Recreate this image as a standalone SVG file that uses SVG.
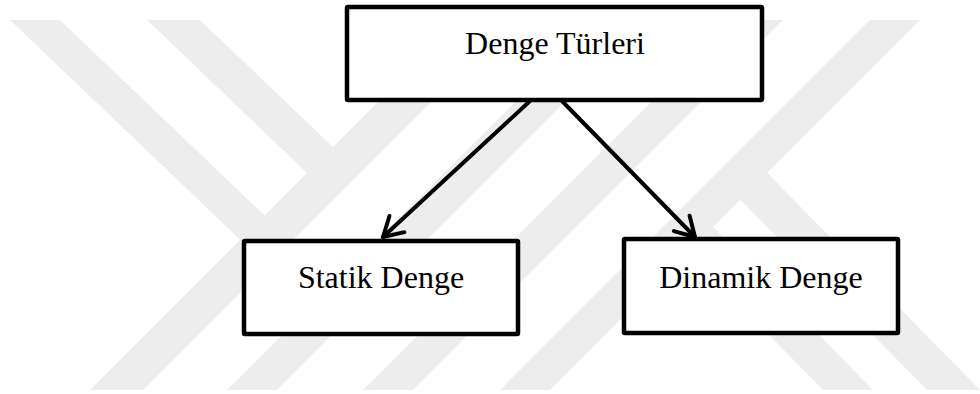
<svg xmlns="http://www.w3.org/2000/svg" width="980" height="394" viewBox="0 0 980 394">
  <style>
    .wm { fill: #ededed; }
    .box { fill: #ffffff; stroke: #000000; stroke-width: 4.5; }
    .lbl { font-family: "Liberation Serif", "Times New Roman", serif; font-size: 32px; fill: #000000; text-anchor: middle; }
    .conn { fill: none; stroke: #000000; stroke-width: 4; stroke-linecap: round; }
  </style>
  <defs>
    <marker id="arrow" viewBox="-26 -16 30 32" markerWidth="30" markerHeight="32" refX="0" refY="0" orient="auto" markerUnits="userSpaceOnUse">
      <path d="M -19,-11 L 0,0 L -19,11" fill="none" stroke="#000000" stroke-width="4" stroke-linecap="round" stroke-linejoin="round"/>
    </marker>
  </defs>
  <rect x="0" y="0" width="980" height="394" fill="#ffffff"/>
  <g id="watermark">
    <polygon class="wm" points="90,390 143,390 513,20 460,20"/>
    <polygon class="wm" points="227,390 277,390 647,20 597,20"/>
    <polygon class="wm" points="363,390 413,390 783,20 733,20"/>
    <polygon class="wm" points="500,390 550,390 920,20 870,20"/>
    <polygon class="wm" points="10,20 60,20 274.8,225.2 250.4,249.6"/>
    <polygon class="wm" points="147,20 200,20 343.2,156.8 317.3,182.7"/>
    <polygon class="wm" points="927,390 980,390 754.8,160.2 728,187"/>
    <polygon class="wm" points="823,390 873,390 700.7,214.3 675.5,239.5"/>
  </g>
  <g id="connectors">
    <line class="conn" x1="530" y1="101" x2="383" y2="237" marker-end="url(#arrow)"/>
    <line class="conn" x1="562" y1="101" x2="695" y2="237" marker-end="url(#arrow)"/>
  </g>
  <g id="node-denge-turleri">
    <rect class="box" x="347" y="7" width="415" height="93" rx="1"/>
    <text class="lbl" x="555" y="54">Denge Türleri</text>
  </g>
  <g id="node-statik-denge">
    <rect class="box" x="244" y="241" width="274" height="93" rx="1"/>
    <text class="lbl" x="381" y="288">Statik Denge</text>
  </g>
  <g id="node-dinamik-denge">
    <rect class="box" x="624" y="239" width="274" height="94" rx="1"/>
    <text class="lbl" x="761" y="288">Dinamik Denge</text>
  </g>
</svg>
